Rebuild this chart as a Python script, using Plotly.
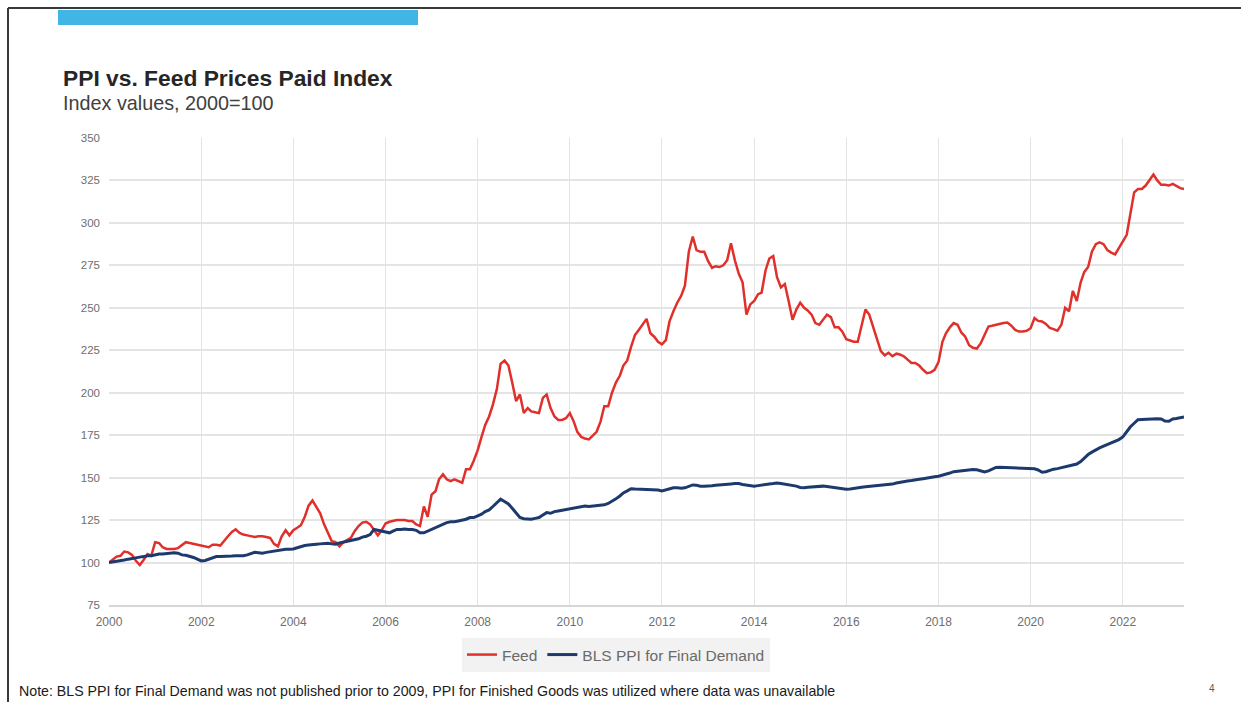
import pandas as pd
import plotly.graph_objects as go

# Monthly index values, Jan 2000 = 100, running Jan 2000 .. May 2023
start_month = "2000-01-01"

feed = [
    # 2000
    100, 102, 103.5, 104, 106.5, 106, 104.5, 101, 98.5, 101.5, 105, 104,
    # 2001
    112, 111.5, 109, 108, 108, 108, 108.5, 110.5, 112, 111.5, 111, 110.5,
    # 2002
    110, 109.5, 109, 110.5, 110.5, 110, 113, 115.5, 118, 119.5, 117.5, 116.5,
    # 2003
    116, 115.5, 115, 115.5, 115.5, 115, 114.5, 111, 109.5, 115.5, 119, 116,
    # 2004
    119, 120.5, 122, 127, 133.5, 136.5, 132.5, 129, 122.5, 118, 112.5, 112,
    # 2005
    109.5, 112, 113, 114.5, 118.5, 121.5, 123.5, 124, 122.5, 119.5, 116, 119,
    # 2006
    123, 124, 124.5, 125, 125, 125, 124.5, 124.5, 122.5, 121.5, 133, 127,
    # 2007
    140, 142, 149, 152, 149, 148, 149, 148, 147, 155, 155, 160,
    # 2008
    166, 174, 181, 186, 193, 202, 217, 219, 216, 206, 195, 199,
    # 2009
    188, 191, 189, 188.5, 188, 197, 199, 191, 186, 184, 184, 185,
    # 2010
    188, 183, 177, 174, 173, 172.5, 175, 177, 183, 192, 192, 200,
    # 2011
    206, 210, 216, 219, 227, 234, 237, 240, 243.5, 235, 233, 230,
    # 2012
    228.5, 231, 242, 248, 253, 257, 263, 283, 292, 284, 283, 283,
    # 2013
    277.5, 273.5, 274.5, 274, 275, 278, 288, 278, 270, 265, 246, 252,
    # 2014
    254, 258, 259, 272, 279, 280.5, 268, 262, 264, 254, 243, 249,
    # 2015
    253, 250, 248.5, 246, 241, 240, 243, 246, 244.5, 238.5, 238.5, 236,
    # 2016
    231.5, 230.5, 230, 230, 240, 249, 246, 238.5, 232, 224.5, 222, 223.5,
    # 2017
    221.5, 223, 222.5, 221.5, 219.5, 217.5, 217.5, 216, 213.5, 211.5, 212, 213.5,
    # 2018
    218, 230, 235, 238.5, 241, 240, 235.5, 233, 228, 226.5, 226, 229,
    # 2019
    234, 239, 239.4, 240, 240.4, 241, 241.3, 239.5, 237, 236, 236, 236.5,
    # 2020
    238, 244, 242.3, 242, 240.5, 238.2, 237.5, 236.5, 240, 250, 248, 260,
    # 2021
    254, 265, 271, 274, 283, 287.5, 288.5, 287.5, 284, 282.5, 281.5, 285,
    # 2022
    288.6, 293, 305, 318, 320, 320, 322, 325.5, 328.5, 325, 322.4, 322.4,
    # 2023
    322, 323, 322, 320.5, 320,
]

ppi = [
    # 2000
    100, 100.3, 100.8, 101, 101.5, 102, 102.5, 103, 103.2, 103.5, 104, 104,
    # 2001
    104.5, 105, 105, 105.2, 105.5, 105.8, 105.5, 104.5, 104.3, 103.8, 103, 102,
    # 2002
    101, 101.2, 102, 103, 103.5, 103.5, 103.5, 103.5, 103.8, 104, 104, 104,
    # 2003
    104.5, 105.5, 106, 105.8, 105.5, 106, 106.4, 106.5, 107, 107.5, 107.8, 107.8,
    # 2004
    108, 108.7, 109.5, 110, 110.3, 110.7, 110.8, 111, 111.2, 111.3, 111, 110.8,
    # 2005
    111.5, 112, 112.5, 113, 113.6, 114, 115, 115.5, 116.5, 119.5, 119, 118.4,
    # 2006
    118, 117.5, 118.5, 119.5, 119.5, 119.8, 119.5, 119.5, 119, 117.5, 117.5, 118.5,
    # 2007
    119.5, 120.5, 121.5, 122.5, 123.5, 124, 124, 124.5, 125, 125.5, 126.5, 126.5,
    # 2008
    127.5, 128.5, 130, 131, 133, 135, 137.3, 136, 134.5, 132, 129, 126.5,
    # 2009
    125.8, 125.5, 125.5, 126, 126.5, 128, 129.4, 129, 130, 130.4, 130.8, 131.4,
    # 2010
    132, 132.4, 132.8, 133, 133.3, 133, 133.3, 133.3, 133.5, 134, 134.8, 136,
    # 2011
    137.5, 139.2, 141, 142.2, 143.5, 143.3, 143.2, 143.2, 143.1, 143, 142.8, 142.7,
    # 2012
    142.2, 142.8, 143.5, 144, 144.1, 143.8, 144, 145, 145.7, 145.5, 145, 145,
    # 2013
    145, 145.2, 145.5, 145.8, 146, 146, 146.3, 146.5, 146.5, 146, 145.7, 145.5,
    # 2014
    145, 145.3, 145.7, 146, 146.3, 146.5, 146.8, 146.5, 146.2, 146, 145.5, 145,
    # 2015
    144.2, 144, 144.3, 144.5, 144.8, 145, 145, 144.8, 144.5, 144, 143.6, 143.4,
    # 2016
    143.2, 143.3, 143.5, 144, 144.3, 144.6, 144.8, 144.8, 145, 145.2, 145.4, 145.6,
    # 2017
    146.2, 146.8, 147.2, 147.9, 148, 148.3, 148.5, 149, 149.4, 149.9, 150.2, 150.5,
    # 2018
    150.8, 151.3, 152, 152.7, 153.5, 153.8, 154, 154.2, 154.5, 154.8, 154.6, 154,
    # 2019
    153.3, 154, 155, 156, 156.1, 156, 155.8, 155.7, 155.6, 155.5, 155.6, 155.4,
    # 2020
    155.5, 155.2, 154.5, 153.2, 153.5, 154.3, 155, 155.3, 155.8, 156.3, 156.8, 157.3,
    # 2021
    158, 159.5, 161.5, 163.6, 165, 166.5, 167.5, 168.5, 169.5, 170.5, 171.5, 172.4,
    # 2022
    174, 177, 179.8, 182, 184.1, 184.3, 184.5, 184.4, 184.5, 184.7, 184.6, 183.3,
    # 2023
    183.2, 184.5, 184.8, 185.2, 185.7,
]

y_ticks = [75, 100, 125, 150, 175, 200, 225, 250, 275, 300, 325, 350]
x_tick_years = list(range(2000, 2024, 2))

dates = pd.date_range(start_month, periods=len(feed), freq="MS")

FONT = "Liberation Sans, Arial, sans-serif"
W, H = 1241, 702
PL, PR, PT, PB = 109, 1184, 138, 605  # plot area in page pixels


def px(x):
    return (x - PL) / (PR - PL)


def py(y):
    return (PB - y) / (PB - PT)


fig = go.Figure()
fig.add_trace(go.Scatter(
    x=dates, y=feed, name="Feed", mode="lines",
    line=dict(color="#e0302b", width=2.5),
))
fig.add_trace(go.Scatter(
    x=dates, y=ppi, name="BLS PPI for Final Demand", mode="lines",
    line=dict(color="#1d3a6e", width=3),
))

grid = "#e4e4e4"
fig.update_xaxes(
    range=[dates[0], dates[-1]],
    tickvals=[pd.Timestamp(f"{y}-01-01") for y in x_tick_years],
    ticktext=[str(y) for y in x_tick_years],
    showgrid=True, gridcolor=grid, gridwidth=1,
    showline=True, linecolor="#d6d6d6", linewidth=1.5,
    zeroline=False, ticks="",
    tickfont=dict(family=FONT, size=12, color="#6e6e6e"),
    ticklabelstandoff=5,
)
fig.update_yaxes(
    range=[75, 350], tickvals=y_ticks,
    showgrid=True, gridcolor=grid, gridwidth=1.5,
    zeroline=False, ticks="", showline=False,
    tickfont=dict(family=FONT, size=11.5, color="#6e6e6e"),
    ticklabelstandoff=8,
)

shapes = [
    # blue header bar
    dict(type="rect", xref="paper", yref="paper",
         x0=px(58), x1=px(418), y0=py(25), y1=py(10),
         fillcolor="#41b6e6", line=dict(width=0), layer="above"),
    # page frame, top and left edges
    dict(type="line", xref="paper", yref="paper",
         x0=px(8), x1=px(1245), y0=py(8), y1=py(8),
         line=dict(color="#3a3a3a", width=2)),
    dict(type="line", xref="paper", yref="paper",
         x0=px(8), x1=px(8), y0=py(8), y1=py(705),
         line=dict(color="#3a3a3a", width=2)),
]

annotations = [
    dict(text="<b>PPI vs. Feed Prices Paid Index</b>", xref="paper", yref="paper",
         x=px(61), y=py(78), xanchor="left", yanchor="middle", showarrow=False,
         font=dict(family=FONT, size=22.8, color="#262626")),
    dict(text="Index values, 2000=100", xref="paper", yref="paper",
         x=px(61), y=py(103), xanchor="left", yanchor="middle", showarrow=False,
         font=dict(family=FONT, size=19.8, color="#404040")),
    dict(text="Note: BLS PPI for Final Demand was not published prior to 2009, "
              "PPI for Finished Goods was utilized where data was unavailable",
         xref="paper", yref="paper", x=px(17), y=py(691),
         xanchor="left", yanchor="middle", showarrow=False,
         font=dict(family=FONT, size=14.2, color="#1a1a1a")),
    dict(text="4", xref="paper", yref="paper", x=px(1212), y=py(688),
         xanchor="center", yanchor="middle", showarrow=False,
         font=dict(family=FONT, size=10, color="#5a5a5a")),
]

fig.update_layout(
    width=W, height=H,
    margin=dict(l=PL, r=W - PR, t=PT, b=H - PB, pad=0),
    paper_bgcolor="white", plot_bgcolor="white",
    showlegend=True,
    legend=dict(
        orientation="h", x=px(462), y=py(638), xanchor="left", yanchor="top",
        bgcolor="#f2f2f2", font=dict(family=FONT, size=15.5, color="#6a6a6a"),
        itemwidth=30, tracegroupgap=0,
    ),
    shapes=shapes, annotations=annotations,
)

fig.write_html("out.html")
